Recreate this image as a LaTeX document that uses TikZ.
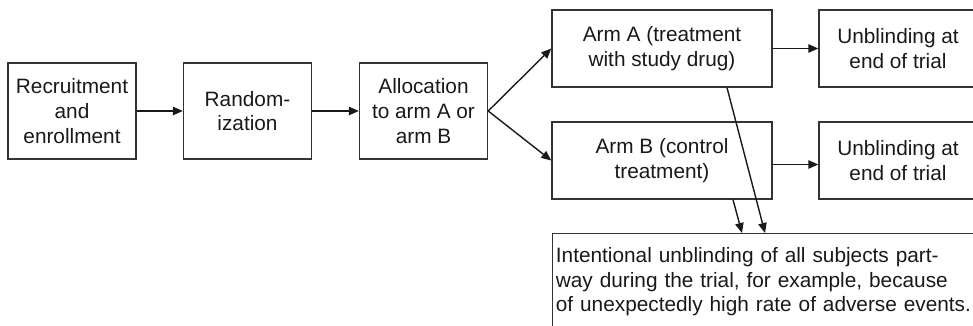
\documentclass[tikz,border=0pt]{standalone}
\usepackage{fontspec}
\setmainfont{Liberation Sans}
\usetikzlibrary{arrows.meta}

\begin{document}
\begin{tikzpicture}[x=0.5pt,y=-0.5pt,
        box/.style={rectangle,draw=black!80,line width=0.7pt,align=center,text=black!90,
            font=\fontsize{10.4}{12.4}\selectfont,inner sep=2pt},
        arr/.style={draw=black!90,line width=0.7pt,-{Triangle[length=5pt,width=4.2pt]}}]
        \useasboundingbox (0,0) rectangle (973,326);
        \clip (0,0) rectangle (973,326);
        \begin{scope}[every node/.style={box,minimum width=64pt,minimum height=48pt}]
            \node (1) at (72,111) {Recruitment\\and\\enrollment};
            \node (2) at (247.5,111) {Random-\\ization};
            \node (3) at (423.5,111) {Allocation\\to arm A or\\arm B};
        \end{scope}
        \begin{scope}[every node/.style={box,minimum width=110pt,minimum height=38.5pt}]
            \node (4) at (662,48.5) {Arm A (treatment\\with study drug)};
            \node (5) at (662,160.5) {Arm B (control\\treatment)};
        \end{scope}
        \begin{scope}[every node/.style={box,minimum width=79pt,minimum height=38.5pt}]
            \node (6) at (898,48.5) {Unblinding at\\end of trial};
            \node (7) at (898,160.5) {Unblinding at\\end of trial};
        \end{scope}
        \node[box,align=left,anchor=north west,text width=213pt,inner xsep=1.6pt,inner ysep=6.8pt,text depth=80pt] (8) at (552,233)
            {Intentional unblinding of all subjects part-\\way during the trial, for example, because\\of unexpectedly high rate of adverse events.};
        \begin{scope}[every edge/.style={arr}]
            \path (1) edge (2);
            \path (2) edge (3);
            \path (3.east) edge (4.west);
            \path (3.east) edge (5.west);
            \path (4) edge (6);
            \path ([yshift=-2pt]5.east) edge ([yshift=-2pt]7.west);
            \path ([xshift=35.5pt]5.south) edge ([xshift=95pt]8.north west);
            \path ([xshift=32.5pt]4.south) edge ([xshift=106.5pt]8.north west);
        \end{scope}
    \end{tikzpicture}
\end{document}
